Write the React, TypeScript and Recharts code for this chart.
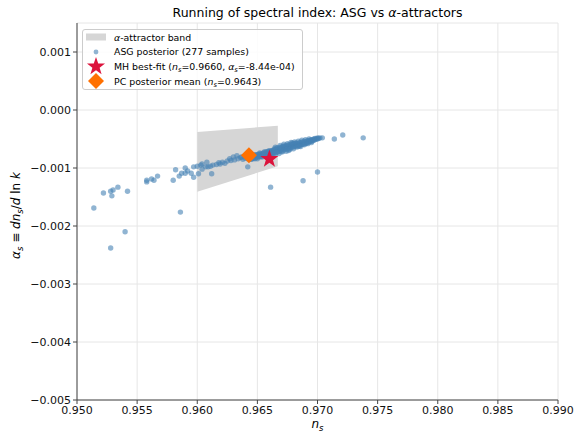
import React from 'react';
import { ComposedChart, Scatter, Area, XAxis, YAxis, CartesianGrid } from 'recharts';

const xTicks = [0.95, 0.955, 0.96, 0.965, 0.97, 0.975, 0.98, 0.985, 0.99];
const yTicks = [0.001, 0.0, -0.001, -0.002, -0.003, -0.004, -0.005];

// alpha-attractor band: ns edges and alpha_s lower/upper bounds
const bandNs = [0.96, 0.9667];
const bandLow = [-0.00141, -0.00097];
const bandHigh = [-0.00038, -0.00027];

// MH best-fit and PC posterior mean
const mhBest = { ns: 0.966, alpha: -0.000844 };
const pcMean = { ns: 0.9643, alpha: -0.00078 };

// ASG posterior samples [ns, alpha_s]
const asgSparse: [number, number][] = [
  [0.9498, -0.00279], [0.9514, -0.00169], [0.9522, -0.00143], [0.9528, -0.0014],
  [0.953, -0.00138], [0.9529, -0.00148], [0.9534, -0.00133], [0.9542, -0.0014],
  [0.954, -0.0021], [0.9528, -0.00238], [0.9558, -0.00124], [0.9558, -0.00121],
  [0.9562, -0.00119], [0.9564, -0.00121], [0.9567, -0.00114], [0.958, -0.00121],
  [0.9582, -0.00103], [0.9586, -0.00176], [0.9585, -0.00114], [0.9587, -0.00109],
  [0.959, -0.001], [0.9592, -0.00105], [0.959, -0.00109], [0.9595, -0.00109],
  [0.9597, -0.00098], [0.9597, -0.00116], [0.96, -0.00097], [0.9601, -0.0011],
  [0.9661, -0.00133], [0.9688, -0.00122], [0.97, -0.00107], [0.9714, -0.0005],
  [0.9721, -0.00043], [0.9738, -0.00048],
];

const asgLeft: [number, number][] = [
  [0.9603, -0.00095], [0.9604, -0.00093], [0.9604, -0.00102], [0.9607, -0.00098],
  [0.9608, -0.0009], [0.9609, -0.00098], [0.9611, -0.00097], [0.9612, -0.0011],
  [0.9613, -0.00095], [0.9616, -0.00094], [0.9618, -0.00091], [0.9619, -0.00093],
  [0.9621, -0.0009], [0.9623, -0.00092], [0.9625, -0.00088], [0.9627, -0.00084],
  [0.9628, -0.00087], [0.963, -0.00081], [0.9631, -0.00086], [0.9633, -0.00079],
  [0.9634, -0.00084], [0.9636, -0.00082], [0.9637, -0.00081], [0.9638, -0.00085],
  [0.964, -0.00083], [0.9641, -0.0008], [0.9642, -0.00098], [0.9642, -0.00084],
  [0.9643, -0.00081],
];

const asgDense: [number, number][] = [
  [0.9644, -0.00085], [0.9644, -0.0008], [0.9645, -0.0008], [0.9645, -0.00085],
  [0.9646, -0.00079], [0.9646, -0.00084], [0.9647, -0.00083], [0.9647, -0.00078],
  [0.9648, -0.00079], [0.9648, -0.00084], [0.9648, -0.00077], [0.9649, -0.00078],
  [0.9649, -0.00082], [0.965, -0.00077], [0.965, -0.00081], [0.965, -0.00084],
  [0.9651, -0.0008], [0.9651, -0.00076], [0.9652, -0.00076], [0.9652, -0.00081],
  [0.9652, -0.00074], [0.9653, -0.00076], [0.9653, -0.0008], [0.9654, -0.00075],
  [0.9654, -0.00079], [0.9654, -0.00081], [0.9655, -0.00078], [0.9655, -0.00074],
  [0.9656, -0.00074], [0.9656, -0.00078], [0.9656, -0.00072], [0.9657, -0.00073],
  [0.9657, -0.00077], [0.9658, -0.00076], [0.9658, -0.00072], [0.9658, -0.00079],
  [0.9659, -0.00075], [0.9659, -0.00071], [0.966, -0.00072], [0.966, -0.00076],
  [0.966, -0.0007], [0.9661, -0.00075], [0.9661, -0.00071], [0.9662, -0.00073],
  [0.9662, -0.0007], [0.9662, -0.00076], [0.9663, -0.0007], [0.9663, -0.00074],
  [0.9664, -0.00069], [0.9664, -0.00073], [0.9664, -0.00067], [0.9665, -0.00072],
  [0.9665, -0.00075], [0.9665, -0.00068], [0.9666, -0.00069], [0.9666, -0.00066],
  [0.9667, -0.00068], [0.9667, -0.00072], [0.9667, -0.00065], [0.9668, -0.00067],
  [0.9668, -0.00071], [0.9669, -0.00066], [0.9669, -0.0007], [0.9669, -0.00064],
  [0.967, -0.00069], [0.967, -0.00072], [0.967, -0.00065], [0.9671, -0.00066],
  [0.9671, -0.00063], [0.9672, -0.00065], [0.9672, -0.00069], [0.9672, -0.00062],
  [0.9673, -0.00067], [0.9673, -0.00063], [0.9674, -0.00064], [0.9674, -0.00068],
  [0.9674, -0.00061], [0.9675, -0.00066], [0.9675, -0.00062], [0.9676, -0.00063],
  [0.9676, -0.0006], [0.9676, -0.00067], [0.9677, -0.00062], [0.9677, -0.00065],
  [0.9678, -0.00061], [0.9678, -0.00065], [0.9678, -0.00059], [0.9679, -0.00063],
  [0.9679, -0.0006], [0.968, -0.00061], [0.968, -0.00064], [0.968, -0.00058],
  [0.9681, -0.00062], [0.9681, -0.00058], [0.9682, -0.00059], [0.9682, -0.00063],
  [0.9682, -0.00057], [0.9683, -0.00061], [0.9683, -0.00058], [0.9684, -0.00058],
  [0.9684, -0.00062], [0.9685, -0.0006], [0.9685, -0.00056], [0.9685, -0.00062],
  [0.9686, -0.00057], [0.9686, -0.0006], [0.9687, -0.00059], [0.9687, -0.00055],
  [0.9688, -0.00056], [0.9688, -0.00059], [0.9689, -0.00057], [0.9689, -0.00054],
  [0.969, -0.00055], [0.969, -0.00058], [0.9691, -0.00054], [0.9691, -0.00057],
  [0.9692, -0.00056], [0.9692, -0.00053], [0.9693, -0.00053], [0.9693, -0.00055],
  [0.9694, -0.00052], [0.9694, -0.00054], [0.9695, -0.00054], [0.9695, -0.00051],
  [0.9696, -0.00051], [0.9696, -0.00053], [0.9697, -0.0005], [0.9697, -0.00052],
  [0.9698, -0.00051], [0.9698, -0.00049], [0.9699, -0.0005], [0.97, -0.0005],
  [0.97, -0.00048], [0.9701, -0.00049], [0.9702, -0.00048], [0.9704, -0.00048],
  [0.9661, -0.00078], [0.9663, -0.00077], [0.9665, -0.00064], [0.9666, -0.00073],
  [0.9668, -0.00075], [0.9669, -0.00061], [0.9671, -0.00072], [0.9672, -0.00059],
  [0.9674, -0.00071], [0.9675, -0.00058], [0.9676, -0.0007], [0.9677, -0.00068],
  [0.9678, -0.00056], [0.9679, -0.00057], [0.968, -0.00067], [0.9681, -0.00055],
  [0.9683, -0.00064], [0.9684, -0.00054], [0.9686, -0.00063], [0.9687, -0.00052],
  [0.9689, -0.0006], [0.969, -0.00051], [0.9692, -0.00058], [0.9693, -0.0005],
  [0.9695, -0.00056],
];

const asgSamples = [...asgSparse, ...asgLeft, ...asgDense];

const FONT = 'DejaVu Sans, sans-serif';
const ASG_COLOR = '#4682b4';
const STAR_COLOR = '#dc143c';
const DIAMOND_COLOR = '#ff7000';
const BAND_COLOR = '#d6d6d6';

const bandData = bandNs.map((ns, i) => ({ ns, band: [bandLow[i], bandHigh[i]] }));
const asgData = asgSamples.map(([ns, alpha]) => ({ ns, alpha }));
const mhData = [mhBest];
const pcData = [pcMean];

const fmt = (v: number) => {
  const s = Math.abs(v).toFixed(3);
  return v < -1e-12 ? '\u2212' + s : s;
};

const Dot = (props: any) => (
  <circle cx={props.cx} cy={props.cy} r={2.7} fill={ASG_COLOR} fillOpacity={0.6} />
);

const starPoints = (cx: number, cy: number, R: number, r: number) => {
  const pts: string[] = [];
  for (let i = 0; i < 10; i++) {
    const ang = (-90 + i * 36) * Math.PI / 180;
    const rad = i % 2 === 0 ? R : r;
    pts.push(`${cx + rad * Math.cos(ang)},${cy + rad * Math.sin(ang)}`);
  }
  return pts.join(' ');
};

const Star = (props: any) => (
  <polygon points={starPoints(props.cx, props.cy, 9.5, 3.8)} fill={STAR_COLOR} />
);

const Diamond = (props: any) => {
  const { cx, cy } = props;
  const d = 8;
  return (
    <polygon
      points={`${cx},${cy - d} ${cx + d},${cy} ${cx},${cy + d} ${cx - d},${cy}`}
      fill={DIAMOND_COLOR}
    />
  );
};

const XLabel = (props: any) => {
  const vb = props.viewBox || {};
  const cx = vb.x + vb.width / 2;
  return (
    <text x={cx} y={428} textAnchor="middle" fontFamily={FONT} fontSize={12} fill="#000">
      <tspan fontStyle="italic">n</tspan>
      <tspan fontStyle="italic" fontSize={8.5} dy={2.5}>s</tspan>
    </text>
  );
};

const YLabel = (props: any) => {
  const vb = props.viewBox || {};
  const cy = vb.y + vb.height / 2 + 4;
  const x = 20;
  return (
    <text
      x={x}
      y={cy}
      textAnchor="middle"
      transform={`rotate(-90, ${x}, ${cy})`}
      fontFamily={FONT}
      fontSize={12}
      fill="#000"
    >
      <tspan fontStyle="italic">α</tspan>
      <tspan fontStyle="italic" fontSize={8.5} dy={2.5}>s</tspan>
      <tspan dy={-2.5}> ≡ </tspan>
      <tspan fontStyle="italic">dn</tspan>
      <tspan fontStyle="italic" fontSize={8.5} dy={2.5}>s</tspan>
      <tspan dy={-2.5}>/</tspan>
      <tspan fontStyle="italic">d</tspan>
      <tspan> ln </tspan>
      <tspan fontStyle="italic">k</tspan>
    </text>
  );
};

const Sub = ({ c }: { c: string }) => (
  <span style={{ fontStyle: 'italic', fontSize: 6.8, position: 'relative', top: 2 }}>{c}</span>
);

const rowStyle: React.CSSProperties = {
  display: 'flex',
  alignItems: 'center',
  height: 14.6,
  whiteSpace: 'nowrap',
};

const iconBox: React.CSSProperties = {
  width: 24,
  height: 14,
  marginRight: 6,
  display: 'flex',
  alignItems: 'center',
  justifyContent: 'center',
};

const LegendBox = () => (
  <div
    style={{
      position: 'absolute',
      left: 82,
      top: 29,
      width: 221,
      height: 61,
      boxSizing: 'border-box',
      border: '1px solid #cccccc',
      borderRadius: 3,
      background: 'rgba(255,255,255,0.85)',
      fontFamily: FONT,
      fontSize: 9.4,
      color: '#000',
      paddingLeft: 1,
      paddingTop: 0,
    }}
  >
    <div style={rowStyle}>
      <div style={iconBox}>
        <svg width={24} height={14}>
          <rect x={2} y={3.5} width={20} height={7} fill={BAND_COLOR} />
        </svg>
      </div>
      <span><i>α</i>-attractor band</span>
    </div>
    <div style={rowStyle}>
      <div style={iconBox}>
        <svg width={24} height={14}>
          <circle cx={12} cy={7} r={2.4} fill={ASG_COLOR} fillOpacity={0.6} />
        </svg>
      </div>
      <span>ASG posterior (277 samples)</span>
    </div>
    <div style={rowStyle}>
      <div style={iconBox}>
        <svg width={24} height={18} style={{ overflow: 'visible' }}>
          <polygon points={starPoints(12, 9.5, 9.5, 3.8)} fill={STAR_COLOR} />
        </svg>
      </div>
      <span>
        MH best-fit (<i>n</i><Sub c="s" />=0.9660, <i>α</i><Sub c="s" />=-8.44e-04)
      </span>
    </div>
    <div style={rowStyle}>
      <div style={iconBox}>
        <svg width={24} height={16} style={{ overflow: 'visible' }}>
          <polygon points="12,0 20,8 12,16 4,8" fill={DIAMOND_COLOR} />
        </svg>
      </div>
      <span>
        PC posterior mean (<i>n</i><Sub c="s" />=0.9643)
      </span>
    </div>
  </div>
);

export default function App() {
  return (
    <div style={{ position: 'absolute', left: 0, top: 0, width: 575, height: 437, background: '#fff' }}>
      <div
        style={{
          position: 'absolute',
          left: 0,
          top: 5,
          width: 635,
          textAlign: 'center',
          fontFamily: FONT,
          fontSize: 12.5,
          lineHeight: '16px',
          color: '#000',
          whiteSpace: 'nowrap',
        }}
      >
        Running of spectral index: ASG vs <i>α</i>-attractors
      </div>
      <ComposedChart
        width={575}
        height={437}
        data={bandData}
        margin={{ top: 23, right: 17, bottom: 0, left: 0 }}
        style={{ position: 'absolute', left: 0, top: 0 }}
      >
        <CartesianGrid stroke="#e6e6e6" strokeWidth={1} />
        <XAxis
          dataKey="ns"
          type="number"
          domain={[0.95, 0.99]}
          ticks={xTicks}
          allowDataOverflow
          height={37}
          tickFormatter={(v: number) => v.toFixed(3)}
          tick={{ fontSize: 11, fill: '#111', fontFamily: FONT }}
          tickSize={4}
          tickMargin={2}
          stroke="#444"
          interval={0}
          label={<XLabel />}
        />
        <YAxis
          type="number"
          domain={[-0.005, 0.0015]}
          ticks={yTicks}
          allowDataOverflow
          width={77}
          tickFormatter={fmt}
          tick={{ fontSize: 11, fill: '#111', fontFamily: FONT }}
          tickSize={4}
          tickMargin={2}
          stroke="#444"
          interval={0}
          label={<YLabel />}
        />
        <Area
          dataKey="band"
          type="linear"
          fill={BAND_COLOR}
          fillOpacity={1}
          stroke="none"
          isAnimationActive={false}
          dot={false}
          activeDot={false}
        />
        <Scatter data={asgData} dataKey="alpha" shape={<Dot />} isAnimationActive={false} />
        <Scatter data={mhData} dataKey="alpha" shape={<Star />} isAnimationActive={false} />
        <Scatter data={pcData} dataKey="alpha" shape={<Diamond />} isAnimationActive={false} />
      </ComposedChart>
      <LegendBox />
    </div>
  );
}
